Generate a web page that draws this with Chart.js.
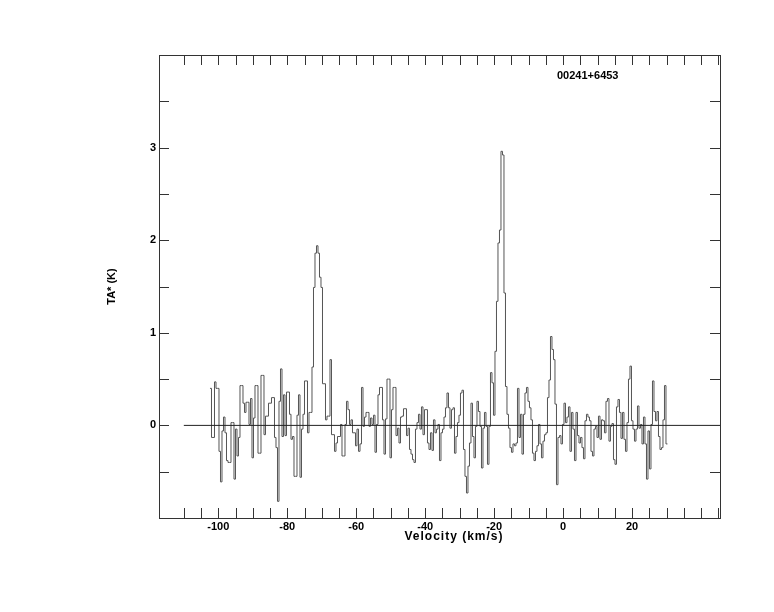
<!DOCTYPE html>
<html>
<head>
    <title>00241+6453</title>
    <script src="https://cdn.jsdelivr.net/npm/chart.js"></script>
    <style>
        body { margin: 0; background: #fff; }
    </style>
</head>
<body>
    <canvas id="chart" width="774" height="612"></canvas>

    <script>
        // spectrum: channel left edge of first channel and channel width (km/s)
        const velStart = -102.41;
        const chanWidth = 0.435;

        // TA* (K) per channel
        const taValues = [
            0.40, -0.13, -0.13, 0.47, 0.40, 0.40, -0.28, -0.61, -0.06, 0.09, -0.08, -0.38, -0.40, -0.40, 0.03, 0.03,
            -0.58, -0.04, -0.33, -0.13, 0.43, 0.43, 0.24, 0.14, 0.25, 0.25, 0.01, 0.29, -0.35, 0.08, 0.43, 0.43,
            -0.30, -0.30, 0.54, 0.54, -0.10, 0.10, 0.10, 0.24, 0.24, 0.30, 0.30, -0.13, -0.24, -0.82, 0.26, 0.61,
            -0.12, 0.33, -0.11, 0.36, 0.36, 0.12, -0.15, -0.12, -0.55, -0.55, 0.11, 0.33, -0.56, -0.04, 0.12, 0.48,
            0.48, -0.08, 0.14, 0.14, 0.63,
            1.49, 1.86, 1.94, 1.86, 1.60, 1.49,
            0.45, 0.45, 0.06, 0.10, 0.10, 0.71, -0.10, -0.10, -0.28, -0.19, -0.12, -0.12, 0.01, -0.33, -0.33, 0.01,
            0.26, 0.17, 0.01, 0.06, -0.08, -0.08, -0.22, -0.04, -0.28, -0.20, 0.41, -0.01, 0.09, 0.14, 0.14, -0.01,
            0.08, 0.01,
            0.11, -0.29, 0.01, 0.33, 0.41, 0.41, 0.06, -0.31, 0.07, 0.50, 0.50, -0.35, 0.17, 0.41, 0.41, -0.11,
            -0.03, -0.19, 0.09, 0.10, 0.18, 0.18, -0.11, -0.03, -0.26, -0.31, -0.37, -0.40, -0.04, 0.03, 0.12, -0.04,
            0.20, -0.10, 0.17, 0.17, -0.19, -0.26, -0.08,
            -0.27, 0.06, -0.08, -0.04, 0.01, -0.38, -0.08, -0.04, 0.09, 0.19, 0.35, 0.19, -0.03, 0.17, 0.19, -0.30,
            -0.12, 0.03, 0.11, 0.35, 0.38, -0.26, -0.55, -0.73, -0.44, -0.19, 0.24, -0.12, -0.35, -0.01, 0.26, 0.15,
            -0.01, -0.46, -0.03, 0.14, -0.01, -0.42, -0.01, 0.57,
            0.46, 0.11, 0.80, 1.34, 1.97, 2.11, 2.96, 2.92, 1.43,
            0.42, 0.12, -0.03, -0.24, -0.29, -0.20, -0.22, -0.19, 0.40, -0.13, 0.12, -0.31, 0.12, 0.35, 0.41, 0.26,
            0.19, 0.06, -0.30, -0.38, -0.28, -0.22, 0.01, -0.20, -0.35, -0.17, -0.10, -0.08, 0.30, 0.49,
            0.96, 0.82, 0.71, 0.23, -0.64, -0.13, -0.11, -0.20, 0.01, 0.24, 0.03, 0.09, 0.20, -0.28, 0.14, -0.04,
            -0.38, 0.14, -0.11, -0.19, -0.13, -0.24, -0.36, 0.05, 0.12, 0.09, 0.05, -0.28, -0.33, -0.04, -0.01, -0.13,
            0.10, -0.15, 0.06, 0.05, -0.08, 0.26,
            0.29, -0.17, -0.01, 0.02, -0.37, -0.42, 0.20, 0.28, 0.14, -0.14, 0.14, -0.15, -0.28, 0.03, 0.50, 0.64,
            0.05, -0.04, -0.17, -0.04, 0.21, -0.03, 0.01, -0.20, 0.09, -0.20, -0.58, -0.06, -0.47, 0.01, 0.48, 0.15,
            0.05, 0.15, -0.12, -0.26, -0.24, 0.06, 0.43, -0.20
        ];

        // zero baseline extent (km/s)
        const baseRange = [-110, 46];

        // axes
        const xRange = [-117.2, 45.5];
        const yRange = [-1, 4];
        const xTickLabels = [-100, -80, -60, -40, -20, 0, 20];
        const yTickLabels = [0, 1, 2, 3];
        const xTickMarks = [-110, -105, -100, -95, -90, -85, -80, -75, -70, -65, -60, -55, -50, -45, -40, -35,
            -30, -25, -20, -15, -10, -5, 0, 5, 10, 15, 20, 25, 30, 35, 40, 45];
        const yTickMarks = [-0.5, 0, 0.5, 1, 1.5, 2, 2.5, 3, 3.5];

        const sourceName = '00241+6453';
        const xTitle = 'Velocity (km/s)';
        const yTitle = 'TA* (K)';

        const frameColor = '#333';
        const labelFont = { family: 'Liberation Sans', size: 11, weight: 'bold' };

        // step points: each channel from its left edge, plus the right edge of the last one
        const spectrum = taValues.map((t, i) => ({ x: velStart + i * chanWidth, y: t }));
        spectrum.push({ x: velStart + taValues.length * chanWidth, y: taValues[taValues.length - 1] });

        const baseline = baseRange.map(v => ({ x: v, y: 0 }));

        // ticks pointing inwards on all four sides, plus free text
        const innerTicks = {
            id: 'innerTicks',
            afterDraw(chart) {
                const { ctx, chartArea: a, scales: { x, y } } = chart;
                ctx.save();
                ctx.strokeStyle = frameColor;
                ctx.lineWidth = 1;
                ctx.beginPath();
                xTickMarks.forEach(v => {
                    const px = Math.round(x.getPixelForValue(v)) + 0.5;
                    ctx.moveTo(px, a.bottom); ctx.lineTo(px, a.bottom - 10);
                    ctx.moveTo(px, a.top); ctx.lineTo(px, a.top + 10);
                });
                yTickMarks.forEach(v => {
                    const py = Math.round(y.getPixelForValue(v)) + 0.5;
                    ctx.moveTo(a.left, py); ctx.lineTo(a.left + 10, py);
                    ctx.moveTo(a.right, py); ctx.lineTo(a.right - 10, py);
                });
                ctx.stroke();

                ctx.fillStyle = '#000';
                ctx.font = 'bold 11px "Liberation Sans"';
                ctx.textBaseline = 'middle';
                ctx.textAlign = 'left';
                ctx.fillText(sourceName, a.left + 398, a.top + 21);
                ctx.textAlign = 'center';
                ctx.font = 'bold 12px "Liberation Sans"';
                ctx.letterSpacing = '1px';
                ctx.fillText(xTitle, 454, a.bottom + 19);
                ctx.letterSpacing = '0px';
                ctx.font = 'bold 11px "Liberation Sans"';
                ctx.translate(112, (a.top + a.bottom) / 2);
                ctx.rotate(-Math.PI / 2);
                ctx.fillText(yTitle, 0, 0);
                ctx.restore();
            }
        };

        new Chart(document.getElementById('chart'), {
            type: 'line',
            data: {
                datasets: [
                    {
                        data: baseline,
                        borderColor: '#222',
                        borderWidth: 1,
                        pointRadius: 0,
                    },
                    {
                        data: spectrum,
                        stepped: 'before',
                        borderColor: '#555',
                        borderWidth: 1,
                        pointRadius: 0,
                    },
                ],
            },
            options: {
                responsive: false,
                animation: false,
                devicePixelRatio: 1,
                layout: { padding: 0 },
                plugins: { legend: { display: false }, tooltip: { enabled: false } },
                scales: {
                    x: {
                        type: 'linear', position: 'bottom', min: xRange[0], max: xRange[1],
                        afterFit: s => { s.height = 94; },
                        afterBuildTicks: s => { s.ticks = xTickLabels.map(v => ({ value: v })); },
                        ticks: { font: labelFont, color: '#000', padding: 2, maxRotation: 0, autoSkip: false },
                        grid: { display: false, drawTicks: false },
                        border: { display: true, color: frameColor, width: 1 },
                    },
                    xTop: {
                        type: 'linear', position: 'top', min: xRange[0], max: xRange[1],
                        afterFit: s => { s.height = 55; },
                        ticks: { display: false },
                        grid: { display: false, drawTicks: false },
                        border: { display: true, color: frameColor, width: 1 },
                    },
                    y: {
                        type: 'linear', position: 'left', min: yRange[0], max: yRange[1],
                        afterFit: s => { s.width = 159; },
                        afterBuildTicks: s => { s.ticks = yTickLabels.map(v => ({ value: v })); },
                        ticks: { font: labelFont, color: '#000', padding: 3 },
                        grid: { display: false, drawTicks: false },
                        border: { display: true, color: frameColor, width: 1 },
                    },
                    yRight: {
                        type: 'linear', position: 'right', min: yRange[0], max: yRange[1],
                        afterFit: s => { s.width = 54; },
                        ticks: { display: false },
                        grid: { display: false, drawTicks: false },
                        border: { display: true, color: frameColor, width: 1 },
                    },
                },
            },
            plugins: [innerTicks],
        });
    </script>
</body>
</html>
